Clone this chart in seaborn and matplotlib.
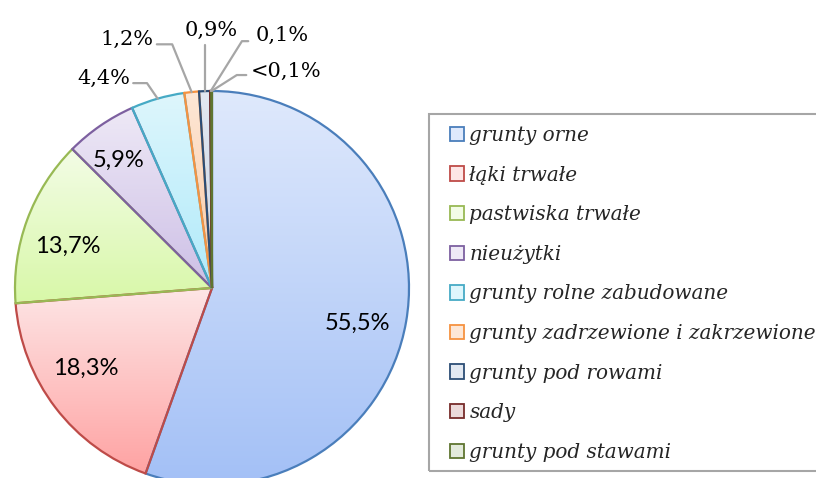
import numpy as np
import matplotlib
matplotlib.use("Agg")
import matplotlib.pyplot as plt
from matplotlib.patches import Patch, Rectangle
from matplotlib.colors import to_rgb
import seaborn as sns

# ── Data ──────────────────────────────────────────────────────────────────────
categories = ["grunty orne", "łąki trwałe", "pastwiska trwałe", "nieużytki",
              "grunty rolne zabudowane", "grunty zadrzewione i zakrzewione",
              "grunty pod rowami", "sady", "grunty pod stawami"]
shares = [55.5, 18.3, 13.7, 5.9, 4.4, 1.2, 0.9, 0.1, 0.05]
labels = ["55,5%", "18,3%", "13,7%", "5,9%", "4,4%", "1,2%", "0,9%", "0,1%", "<0,1%"]

# gradient top / bottom colours and edge colours
top_colors = ["#dfe9fc", "#fde6e6", "#f3fce6", "#eee9f6", "#def6fc", "#fde7d6",
              "#e2e8f1", "#ecdada", "#e3eadb"]
bot_colors = ["#a3c0f6", "#ffa3a3", "#d8f8a8", "#cdbfe6", "#b0eafa", "#fcc9a2",
              "#ccd6e6", "#dcc3c3", "#cfdbbe"]
edge_colors = ["#4a7ebb", "#be4b48", "#98b954", "#7d60a0", "#46aac5", "#f69240",
               "#2c4d75", "#772c2a", "#5f7530"]

# ── Figure ────────────────────────────────────────────────────────────────────
sns.set_theme(style="white")
W, H = 816, 478
fig = plt.figure(figsize=(W / 100, H / 100), dpi=100)
ax = fig.add_axes([15 / W, (H - 485) / H, 394 / W, 394 / H])

wedges, _ = ax.pie(shares, startangle=90, counterclock=False,
                   wedgeprops=dict(linewidth=1.6, facecolor="none"))

for w, c_top, c_bot, ec in zip(wedges, top_colors, bot_colors, edge_colors):
    w.set_edgecolor(ec)
    w.set_zorder(3)
    ext = w.get_path().get_extents()
    t = np.linspace(0, 1, 256)[:, None]
    grad = (1 - t) * np.array(to_rgb(c_top)) + t * np.array(to_rgb(c_bot))
    img = ax.imshow(grad[:, None, :].repeat(2, axis=1),
                    extent=(ext.x0, ext.x1, ext.y0, ext.y1),
                    aspect="auto", origin="upper", zorder=2)
    img.set_clip_path(w)

ax.set_xlim(-1, 1)
ax.set_ylim(-1, 1)
ax.set_aspect("equal")
ax.axis("off")

# ── Inside labels ─────────────────────────────────────────────────────────────
inner_pos = {0: (0.74, -0.18), 1: (-0.64, -0.41), 2: (-0.73, 0.21), 3: (-0.475, 0.65)}
for i, (x, y) in inner_pos.items():
    ax.text(x, y, labels[i], ha="center", va="center", fontsize=17,
            family="Lato", color="black", zorder=5)

# ── Outside labels with leader lines ──────────────────────────────────────────
# (text position, elbow point) in data units
outer = {
    4: ((-0.55, 1.065), (-0.33, 1.04)),
    5: ((-0.43, 1.262), (-0.202, 1.237)),
    6: ((-0.005, 1.31), (-0.035, 1.232)),
    7: ((0.354, 1.282), (0.152, 1.253)),
    8: ((0.374, 1.10), (0.126, 1.081)),
}
cum = np.cumsum([0] + shares) / sum(shares)
for i, (tpos, elbow) in outer.items():
    ang = np.deg2rad(90 - 360 * (cum[i] + cum[i + 1]) / 2)
    edge = (np.cos(ang), np.sin(ang))
    if i == 6:
        xs = [elbow[0], elbow[0]]
        ys = [elbow[1], edge[1]]
    else:
        start_x = tpos[0] + (0.15 if i in (4, 5) else -0.17)
        if i == 8:
            start_x = tpos[0] - 0.2
        xs = [start_x, elbow[0], edge[0]]
        ys = [elbow[1], elbow[1], edge[1]]
    ax.plot(xs, ys, color="#a6a6a6", lw=1.6, clip_on=False, zorder=4)
    ax.text(tpos[0], tpos[1], labels[i], ha="center", va="center",
            fontsize=15, family="DejaVu Serif", color="black")

# ── Legend ────────────────────────────────────────────────────────────────────
fig.patches.append(Rectangle((429 / W, (H - 471) / H), 420 / W, (471 - 114) / H,
                             transform=fig.transFigure, fill=False,
                             edgecolor="#a6a6a6", linewidth=1.5))
handles = [Patch(facecolor=fc, edgecolor=ec, linewidth=1.3)
           for fc, ec in zip(top_colors, edge_colors)]
fig.legend(handles, categories, loc="upper left",
           bbox_to_anchor=(450 / W, (H - 126) / H), frameon=False,
           prop=dict(family="DejaVu Serif", style="italic", size=14.4),
           handlelength=0.72, handleheight=0.72, handletextpad=0.25,
           labelspacing=1.03, borderaxespad=0, borderpad=0)

fig.savefig("out.png", dpi=100)
